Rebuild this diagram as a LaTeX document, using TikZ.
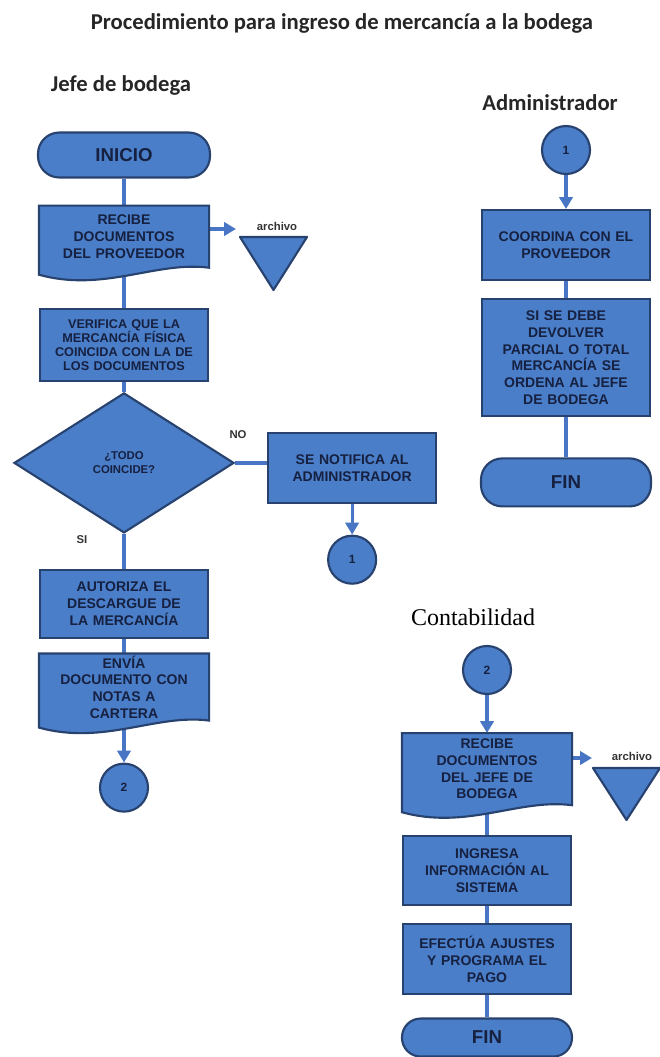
\documentclass[tikz,border=0pt]{standalone}
\usepackage{fontspec}
\setmainfont{Liberation Sans}
\newfontfamily\carl{Carlito}
\newfontfamily\tnr{Liberation Serif}
\usetikzlibrary{shapes.geometric,arrows.meta,positioning,calc}
\definecolor{bfill}{RGB}{74,126,200}
\definecolor{bline}{RGB}{40,66,112}
\definecolor{btext}{RGB}{22,32,64}
\definecolor{bconn}{RGB}{72,118,196}
\pgfdeclarelayer{links}
\pgfdeclarelayer{docs}
\pgfsetlayers{links,docs,main}

% wavy bottom of a document box
\newcommand{\docshape}[1]{%
  \begin{pgfonlayer}{docs}
    \draw[docline] (#1.north west) -- (#1.north east) -- (#1.south east)
      .. controls ($(#1.south east)+(-53,-7)$) and ($(#1.south west)+(65,25)$)
      .. ($(#1.south west)+(0,7)$) -- cycle;
  \end{pgfonlayer}}

\begin{document}
\begin{tikzpicture}[x=0.75pt,y=-0.75pt,
  term/.style={rectangle,rounded corners=16pt,draw=bline,fill=bfill,line width=1.6pt,
               text=btext,font=\fontsize{14}{16}\selectfont\bfseries,minimum width=127.5pt},
  proc/.style={rectangle,draw=bline,fill=bfill,line width=1.6pt,text=btext,align=center,
               font=\fontsize{10.5}{12.5}\selectfont\bfseries,minimum width=126pt,
               text width=120pt,inner sep=2pt},
  docu/.style={proc,draw=none,fill=none},
  docline/.style={draw=bline,fill=bfill,line width=1.6pt},
  dec/.style={diamond,draw=bline,fill=bfill,line width=1.6pt,text=btext,align=center,
              font=\fontsize{8.5}{10.5}\selectfont\bfseries,minimum width=165pt,
              minimum height=105pt,inner sep=0pt},
  conn/.style={circle,draw=bline,fill=bfill,line width=1.6pt,text=btext,minimum size=36pt,
               inner sep=0pt,font=\fontsize{9}{10}\selectfont\bfseries},
  trif/.style={draw=bline,fill=bfill,line width=1.6pt,line join=round},
  lbl/.style={font=\fontsize{8.5}{10}\selectfont\bfseries,text=black!80,inner sep=1pt},
  lane/.style={font=\carl\fontsize{17}{20}\selectfont\bfseries,text=black!85},
  lnk/.style={draw=bconn,line width=2.4pt},
  arr/.style={lnk,-{Triangle[width=10pt,length=9pt]}}
]
\useasboundingbox (0,0) rectangle (660,1057);

\node[lane] (title) at (342,23) {Procedimiento para ingreso de mercancía a la bodega};
\node[lane] (jefe)  at (121,85) {Jefe de bodega};
\node[lane] (admin) at (550,103) {Administrador};
\node[font=\tnr\fontsize{18}{20}\selectfont] (conta) at (473,617) {Contabilidad};

% Jefe de bodega
\node[term,minimum width=129pt,minimum height=33.75pt] (inicio) at (124,155) {INICIO};
\node[docu,minimum height=45pt,below=20.25pt of inicio] (rp) {RECIBE\\DOCUMENTOS\\DEL PROVEEDOR};
\node[proc,minimum height=54pt,font=\fontsize{9.5}{10.5}\selectfont\bfseries,below=30pt of rp] (vf)
  {VERIFICA QUE LA\\MERCANCÍA FÍSICA\\COINCIDA CON LA DE\\LOS DOCUMENTOS};
\node[dec,below=7.5pt of vf] (dia) {¿TODO\\COINCIDE?};
\node[proc,minimum height=52.5pt,right=24pt of dia,yshift=-3.75pt] (nt) {SE NOTIFICA AL\\ADMINISTRADOR};
\node[conn,below=23pt of nt] (c1a) {1};
\node[proc,minimum height=51pt,below=26pt of dia] (aut) {AUTORIZA EL\\DESCARGUE DE\\LA MERCANCÍA};
\node[docu,minimum height=48.75pt,inner sep=0pt,below=11pt of aut] (env) {ENVÍA\\DOCUMENTO CON\\NOTAS A\\CARTERA};
\node[conn,below=31.5pt of env] (c2a) {2};
\node[lbl] (no) at (238,435) {NO};
\node[lbl] (si) at (82,540) {SI};
\coordinate (tr1) at (240,237);
\coordinate (ar1) at (236,229);
\node[lbl] (arc1) at (277,226) {archivo};

% Administrador
\node[conn] (c1b) at (566,150) {1};
\node[proc,minimum height=52.5pt,below=25.5pt of c1b] (coord) {COORDINA CON EL\\PROVEEDOR};
\node[proc,minimum height=87.75pt,below=12.75pt of coord] (ord)
  {SI SE DEBE\\DEVOLVER\\PARCIAL O TOTAL\\MERCANCÍA SE\\ORDENA AL JEFE\\DE BODEGA};
\node[term,minimum height=36pt,below=30pt of ord] (fina) {FIN};

% Contabilidad
\node[conn] (c2b) at (487,670) {2};
\node[docu,minimum height=52.5pt,below=28.5pt of c2b] (rj) {RECIBE\\DOCUMENTOS\\DEL JEFE DE\\BODEGA};
\node[proc,minimum height=51.75pt,below=22.5pt of rj] (ing) {INGRESA\\INFORMACIÓN AL\\SISTEMA};
\node[proc,minimum height=52.5pt,below=12.75pt of ing] (efe) {EFECTÚA AJUSTES\\Y PROGRAMA EL\\PAGO};
\node[term,minimum height=28.5pt,rounded corners=14pt,below=16.5pt of efe] (finc) {FIN};
\coordinate (tr2) at (593,768);
\coordinate (ar2) at (592,758);
\node[lbl] (arc2) at (632,756) {archivo};

\docshape{rp}
\docshape{env}
\docshape{rj}
\draw[trif] (tr1) -- ++(67,0) -- ++(-33.5,53) -- cycle;
\draw[trif] (tr2) -- ++(67,0) -- ++(-33.5,52) -- cycle;

\begin{pgfonlayer}{links}
\draw[lnk] (inicio) -- (rp);
\draw[lnk] (rp) -- (vf);
\draw[lnk] (vf) -- (dia);
\draw[lnk] (dia.east) -- (dia.east -| nt.west);
\draw[arr] (nt) -- (c1a);
\draw[lnk] (dia) -- (aut);
\draw[lnk] (aut) -- (env);
\draw[arr] (env) -- (c2a);
\draw[arr] (rp.east |- ar1) -- (ar1);
\draw[arr] (c1b) -- (coord);
\draw[lnk] (coord) -- (ord);
\draw[lnk] (ord) -- (fina);
\draw[arr] (c2b) -- (rj);
\draw[arr] (rj.east |- ar2) -- (ar2);
\draw[lnk] (rj) -- (ing);
\draw[lnk] (ing) -- (efe);
\draw[lnk] (efe) -- (finc);
\end{pgfonlayer}
\end{tikzpicture}
\end{document}
